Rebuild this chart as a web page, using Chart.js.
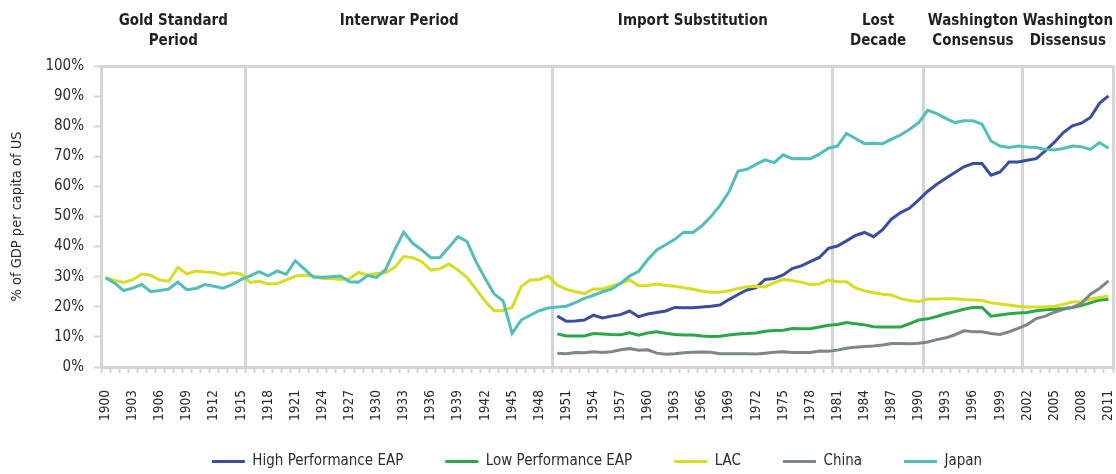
<!DOCTYPE html>
<html>
<head>
<meta charset="utf-8">
<script src="https://cdn.jsdelivr.net/npm/chart.js@4.4.1/dist/chart.umd.min.js"></script>
<style>
  html, body { margin: 0; padding: 0; background: #ffffff; }
  #wrap { width: 1116px; height: 474px; position: relative; }
</style>
</head>
<body>
<div id="wrap"><canvas id="c"></canvas></div>
<script>
// ---------- DATA ----------
const years = [];
for (let y = 1900; y <= 2011; y++) years.push(String(y));

const seriesNames = ['High Performance EAP', 'Low Performance EAP', 'LAC', 'China', 'Japan'];

// 1950-2011
const highPerfEAP = [
  16.9, 15.2, 15.3, 15.6, 17.2, 16.3, 16.9, 17.4, 18.6, 16.7,
  17.6, 18.1, 18.6, 19.8, 19.7, 19.7, 19.9, 20.2, 20.6, 22.4,
  24.1, 25.6, 26.4, 29.1, 29.4, 30.6, 32.7, 33.6, 35.0, 36.4,
  39.4, 40.2, 41.9, 43.7, 44.7, 43.3, 45.6, 49.2, 51.3, 52.8,
  55.5, 58.4, 60.7, 62.7, 64.6, 66.5, 67.6, 67.6, 63.7, 64.8,
  68.1, 68.1, 68.7, 69.2, 71.8, 74.6, 77.9, 80.1, 81.0, 82.9,
  87.6, 90.1
];
const lowPerfEAP = [
  11.0, 10.3, 10.3, 10.3, 11.1, 11.0, 10.8, 10.7, 11.4, 10.6,
  11.3, 11.7, 11.2, 10.8, 10.6, 10.6, 10.3, 10.1, 10.2, 10.6,
  11.0, 11.1, 11.3, 11.9, 12.1, 12.2, 12.8, 12.7, 12.7, 13.3,
  13.9, 14.1, 14.8, 14.4, 14.0, 13.4, 13.3, 13.3, 13.3, 14.4,
  15.6, 16.0, 16.8, 17.7, 18.4, 19.2, 19.8, 19.8, 16.9, 17.3,
  17.7, 17.9, 18.1, 18.7, 19.0, 19.2, 19.4, 19.8, 20.4, 21.3,
  22.3, 22.4
];
const china = [
  4.6, 4.4, 4.8, 4.7, 5.1, 4.8, 5.1, 5.7, 6.1, 5.6,
  5.7, 4.6, 4.2, 4.4, 4.7, 4.9, 5.0, 4.9, 4.4, 4.4,
  4.4, 4.4, 4.3, 4.6, 4.9, 5.1, 4.8, 4.8, 4.8, 5.3,
  5.2, 5.6, 6.2, 6.6, 6.8, 7.0, 7.3, 7.8, 7.8, 7.7,
  7.9, 8.3, 9.1, 9.7, 10.7, 12.0, 11.7, 11.7, 11.1, 10.8,
  11.7, 12.8, 14.1, 16.1, 16.9, 18.2, 19.2, 19.8, 21.1, 24.2,
  26.1, 28.6
];
// 1900-2011
const lac = [
  29.8, 28.8, 28.1, 29.0, 30.9, 30.5, 28.9, 28.5, 33.1, 30.9,
  31.9, 31.6, 31.4, 30.6, 31.3, 30.9, 28.1, 28.5, 27.6, 27.7,
  28.9, 30.2, 30.6, 30.2, 29.4, 29.4, 29.1, 29.4, 31.4, 30.6,
  31.1, 31.3, 33.1, 36.7, 36.3, 35.0, 32.2, 32.6, 34.2, 32.2,
  29.8, 25.9, 21.9, 18.7, 18.7, 19.8, 26.7, 28.9, 29.1, 30.2,
  27.2, 25.8, 25.0, 24.4, 25.9, 25.9, 26.9, 27.8, 28.9, 27.0,
  27.1, 27.6, 27.1, 26.8, 26.3, 25.8, 25.2, 24.8, 24.8, 25.3,
  26.1, 26.7, 26.8, 26.6, 28.0, 29.1, 28.7, 28.2, 27.4, 27.6,
  28.9, 28.3, 28.3, 26.3, 25.3, 24.7, 24.2, 23.9, 22.7, 22.1,
  21.8, 22.6, 22.6, 22.7, 22.7, 22.4, 22.3, 22.1, 21.3, 20.9,
  20.6, 20.2, 19.9, 19.9, 19.9, 20.2, 20.8, 21.6, 21.8, 22.6,
  23.1, 23.6
];
const japan = [
  29.6, 27.9, 25.4, 26.2, 27.4, 25.0, 25.4, 25.9, 28.2, 25.7,
  26.1, 27.4, 26.8, 26.2, 27.4, 29.0, 30.3, 31.7, 30.3, 31.9,
  30.8, 35.3, 32.6, 29.8, 29.8, 30.0, 30.2, 28.3, 28.2, 30.4,
  29.8, 32.4, 38.9, 44.8, 41.1, 38.9, 36.3, 36.4, 39.8, 43.3,
  41.7, 35.0, 29.5, 24.3, 22.0, 11.2, 15.6, 17.2, 18.7, 19.6,
  19.9, 20.2, 21.4, 22.8, 23.8, 25.0, 25.9, 27.8, 30.2, 31.8,
  35.6, 38.9, 40.6, 42.4, 44.8, 44.7, 46.9, 50.0, 53.6, 58.2,
  65.1, 65.7, 67.3, 68.8, 67.9, 70.5, 69.2, 69.3, 69.2, 70.7,
  72.7, 73.4, 77.6, 75.9, 74.2, 74.3, 74.2, 75.7, 77.1, 79.0,
  81.2, 85.3, 84.2, 82.6, 81.2, 81.8, 81.8, 80.7, 75.1, 73.4,
  72.9, 73.4, 73.1, 72.9, 72.3, 72.1, 72.6, 73.4, 73.2, 72.3,
  74.6, 72.7
];

const periodNames = [
  ['Gold Standard', 'Period'],
  ['Interwar Period'],
  ['Import Substitution'],
  ['Lost', 'Decade'],
  ['Washington', 'Consensus'],
  ['Washington', 'Dissensus']
];
const periodStarts = [1900, 1916, 1950, 1981, 1991, 2002];
const periodEnd = 2012;
const yTickValues = [0, 10, 20, 30, 40, 50, 60, 70, 80, 90, 100];

// ---------- STYLE ----------
const FONT = "'DejaVu Sans Condensed', 'DejaVu Sans', sans-serif";
const TEXT = '#2b2b2b';
const FRAME = '#d3d4d6';
const colors = ['#3a4ea0', '#2ba64a', '#d5de22', '#7c868b', '#53bdb9'];

const lateStart = years.indexOf('1950');
const padLate = arr => Array(lateStart).fill(null).concat(arr);
const seriesData = [padLate(highPerfEAP), padLate(lowPerfEAP), lac, padLate(china), japan];

const sepIndex = periodStarts.slice(1).map(y => years.indexOf(String(y)));

const datasets = seriesNames.map((name, i) => ({
  label: name,
  data: seriesData[i],
  borderColor: colors[i],
  backgroundColor: colors[i],
  borderWidth: 3,
  pointRadius: 0,
  pointHoverRadius: 0,
  tension: 0,
  spanGaps: false,
  order: seriesNames.length - 1 - i
}));

const periodPlugin = {
  id: 'periodLabels',
  afterDraw(chart) {
    const { ctx, chartArea, scales } = chart;
    const x = scales.x;
    const edge = (yr) => {
      const idx = yr - 1900;
      if (idx <= 0) return chartArea.left;
      if (idx >= years.length) return chartArea.right;
      return (x.getPixelForValue(idx - 1) + x.getPixelForValue(idx)) / 2;
    };
    ctx.save();
    ctx.fillStyle = '#231f20';
    ctx.font = 'bold 15px ' + FONT;
    ctx.textAlign = 'center';
    ctx.textBaseline = 'alphabetic';
    periodNames.forEach((lines, i) => {
      const a = edge(periodStarts[i]);
      const b = edge(i + 1 < periodStarts.length ? periodStarts[i + 1] : periodEnd);
      const cx = (a + b) / 2;
      lines.forEach((t, k) => ctx.fillText(t, cx, 25 + k * 20));
    });
    ctx.restore();
  }
};

const legendPlace = {
  id: 'legendPlace',
  afterLayout(chart) {
    const lg = chart.legend;
    if (!lg) return;
    const w = lg.right - lg.left;
    const cx = 597;
    lg.left = cx - w / 2; lg.right = cx + w / 2;
    lg.top = 412; lg.bottom = chart.height;
    lg.height = lg.bottom - lg.top;
  }
};

new Chart(document.getElementById('c'), {
  type: 'line',
  data: { labels: years, datasets },
  plugins: [periodPlugin, legendPlace],
  options: {
    responsive: true,
    maintainAspectRatio: false,
    animation: false,
    layout: { padding: { top: 66, right: 3, bottom: 0, left: 0 } },
    plugins: {
      tooltip: { enabled: false },
      legend: {
        position: 'bottom',
        maxHeight: 50,
        labels: {
          usePointStyle: true,
          pointStyle: 'line',
          pointStyleWidth: 33,
          boxWidth: 33,
          padding: 42,
          color: TEXT,
          font: { family: FONT, size: 15 },
          sort: (a, b) => a.datasetIndex - b.datasetIndex
        }
      }
    },
    scales: {
      x: {
        type: 'category',
        offset: true,
        afterFit: s => { s.height = 57; s.paddingLeft = 0; s.paddingRight = 0; },
        border: { color: FRAME, width: 3 },
        grid: {
          offset: true,
          drawOnChartArea: true,
          lineWidth: 3,
          color: c => (c.index === undefined || sepIndex.includes(c.index)) ? FRAME : 'rgba(0,0,0,0)',
          tickColor: FRAME,
          tickWidth: 2,
          tickLength: 6
        },
        ticks: {
          autoSkip: false,
          minRotation: 90,
          maxRotation: 90,
          padding: 17,
          color: TEXT,
          font: { family: FONT, size: 13.5 },
          callback: function (v) {
            const y = +this.getLabelForValue(v);
            return (y - 1900) % 3 === 0 ? String(y) : '';
          }
        }
      },
      y: {
        min: 0,
        max: 100,
        afterFit: s => { s.width = 101; },
        afterBuildTicks: s => { s.ticks = yTickValues.map(v => ({ value: v })); },
        border: { color: FRAME, width: 3 },
        grid: {
          lineWidth: 3,
          color: c => (c.tick && c.tick.value === 100) ? FRAME : 'rgba(0,0,0,0)',
          tickColor: FRAME,
          tickWidth: 2,
          tickLength: 7
        },
        ticks: {
          padding: 10,
          color: TEXT,
          font: { family: FONT, size: 15 },
          callback: v => v + '%'
        },
        title: {
          display: true,
          text: '% of GDP per capita of US',
          color: TEXT,
          font: { family: FONT, size: 14.5 },
          padding: { top: 9, bottom: 0 }
        }
      }
    }
  }
});
</script>
</body>
</html>
